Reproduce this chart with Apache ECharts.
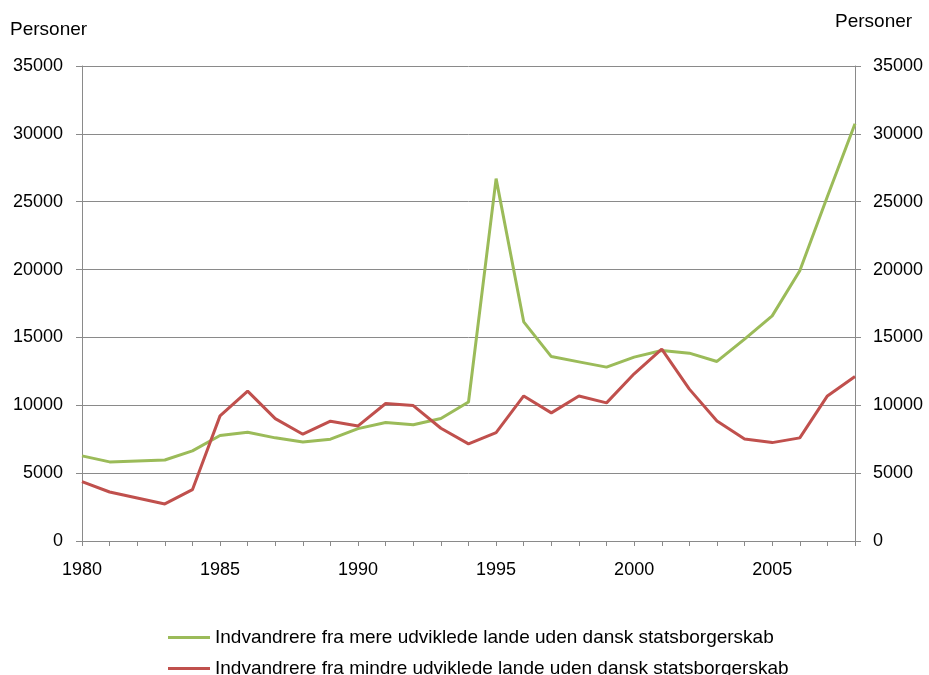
<!DOCTYPE html>
<html>
<head>
<meta charset="utf-8">
<script src="https://cdn.jsdelivr.net/npm/echarts@6/dist/echarts.min.js"></script>
<style>
html,body{margin:0;padding:0;background:#fff;}
#chart{width:929px;height:675px;}
</style>
</head>
<body>
<div id="chart"></div>
<script>
const years = ['1980','1981','1982','1983','1984','1985','1986','1987','1988','1989','1990','1991','1992','1993','1994','1995','1996','1997','1998','1999','2000','2001','2002','2003','2004','2005','2006','2007','2008'];
const mereUdviklede = [6270,5830,5900,5970,6640,7770,8010,7600,7300,7500,8280,8730,8560,9020,10240,26700,16150,13590,13200,12810,13550,14040,13840,13230,14870,16590,19910,25390,30750];
const mindreUdviklede = [4370,3610,3170,2730,3780,9220,11040,9020,7870,8830,8480,10130,9980,8310,7160,7990,10690,9440,10690,10180,12320,14140,11190,8850,7520,7250,7600,10690,12120];
const seriesNames = ['Indvandrere fra mere udviklede lande uden dansk statsborgerskab','Indvandrere fra mindre udviklede lande uden dansk statsborgerskab'];
const yUnit = 'Personer';

const font = '"Liberation Sans", Arial, sans-serif';
const axisGray = '#8a8a8a';
const chart = echarts.init(document.getElementById('chart'), null, {renderer:'canvas'});
const yAxisBase = {
  type:'value', min:0, max:35000, interval:5000,
  axisLine:{show:true, lineStyle:{color:axisGray, width:1}},
  axisTick:{show:true, length:6, lineStyle:{color:axisGray}},
  axisLabel:{color:'#000', fontSize:18, fontFamily:font, margin:19, formatter:v => String(v)}
};
const legendBase = {
  orient:'horizontal', left:163, icon:'rect', itemWidth:42, itemHeight:3,
  textStyle:{color:'#000', fontSize:19, fontFamily:font}
};
chart.setOption({
  animation:false,
  backgroundColor:'#fff',
  grid:{left:82, right:74, top:66, bottom:134, containLabel:false},
  graphic:[
    {type:'text', left:10, top:20, style:{text:yUnit, fontSize:19, fontFamily:font, fill:'#000'}},
    {type:'text', left:835, top:12, style:{text:yUnit, fontSize:19, fontFamily:font, fill:'#000'}}
  ],
  xAxis:{
    type:'category', data:years, boundaryGap:false,
    axisLine:{lineStyle:{color:axisGray, width:1}},
    axisTick:{show:true, interval:0, length:5, lineStyle:{color:axisGray}},
    axisLabel:{interval:4, color:'#000', fontSize:18, fontFamily:font, margin:20},
    splitLine:{show:false}
  },
  yAxis:[
    Object.assign({}, yAxisBase, {position:'left', splitLine:{show:true, lineStyle:{color:axisGray, width:1}}}),
    Object.assign({}, yAxisBase, {position:'right', splitLine:{show:false}, axisLabel:Object.assign({}, yAxisBase.axisLabel, {margin:18})})
  ],
  legend:[
    Object.assign({}, legendBase, {top:623, data:[seriesNames[0]]}),
    Object.assign({}, legendBase, {top:654, data:[seriesNames[1]]})
  ],
  series:[
    {name:seriesNames[0], type:'line', data:mereUdviklede, yAxisIndex:0, symbol:'none', lineStyle:{color:'#9BBB59', width:3}, itemStyle:{color:'#9BBB59'}},
    {name:seriesNames[1], type:'line', data:mindreUdviklede, yAxisIndex:0, symbol:'none', lineStyle:{color:'#C0504D', width:3}, itemStyle:{color:'#C0504D'}}
  ]
});
</script>
</body>
</html>
